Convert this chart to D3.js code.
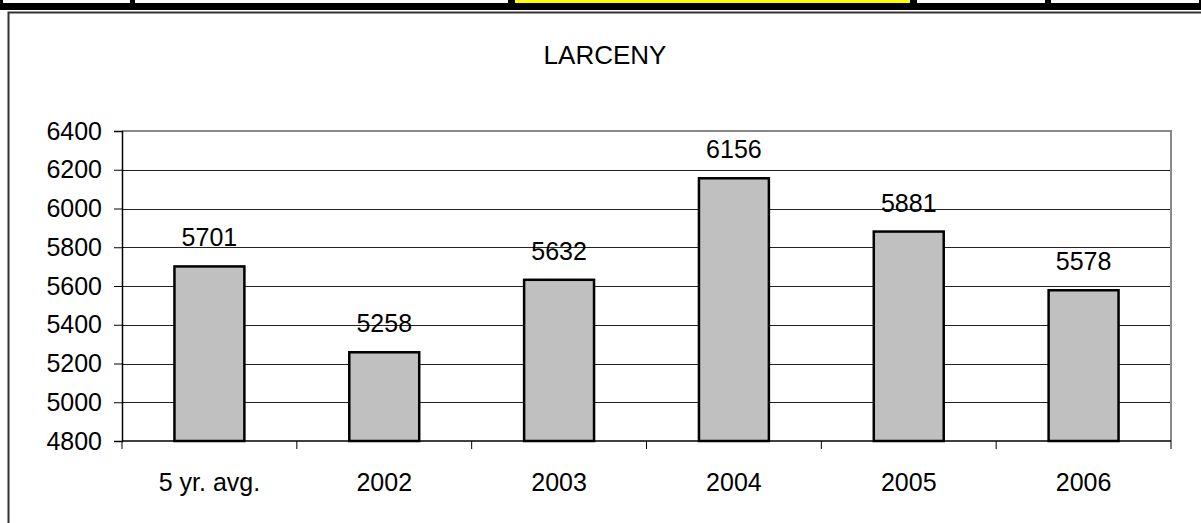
<!DOCTYPE html>
<html>
<head>
<meta charset="utf-8">
<script src="https://cdn.jsdelivr.net/npm/d3@7"></script>
<style>
  body { margin: 0; background: #fff; }
  svg { display: block; font-family: "Liberation Sans", Arial, sans-serif; }
</style>
</head>
<body>
<svg width="1201" height="523"></svg>
<script>
var categories = ["5 yr. avg.", "2002", "2003", "2004", "2005", "2006"];
var values = [5701, 5258, 5632, 6156, 5881, 5578];
var yTicks = [4800, 5000, 5200, 5400, 5600, 5800, 6000, 6200, 6400];
var title = "LARCENY";

var svg = d3.select("svg");

// header strip of the page above the chart
var cells = [[3, 130, "#fff"], [135, 508, "#fff"], [515, 910, "#ffff00"], [917, 1045, "#fff"], [1051, 1199, "#fff"]];
svg.append("rect").attr("x", 0).attr("y", 0).attr("width", 1201).attr("height", 10).attr("fill", "#000");
svg.selectAll(".cell").data(cells).enter().append("rect")
    .attr("x", function(d) { return d[0]; })
    .attr("y", 0)
    .attr("width", function(d) { return d[1] - d[0]; })
    .attr("height", 3)
    .attr("fill", function(d) { return d[2]; });

// chart frame
svg.append("rect")
    .attr("x", 8.5).attr("y", 12.5).attr("width", 1220).attr("height", 540)
    .attr("fill", "none").attr("stroke", "#333").attr("stroke-width", 2);

var plotLeft = 122, plotRight = 1171, plotTop = 131, plotBottom = 441;

var x = d3.scaleBand()
    .domain(categories)
    .range([plotLeft, plotRight])
    .paddingInner(0.6)
    .paddingOuter(0.3);

var y = d3.scaleLinear()
    .domain([4800, 6400])
    .range([plotBottom, plotTop]);

// gridlines
svg.selectAll(".grid").data(yTicks.slice(1, -1)).enter().append("line")
    .attr("x1", plotLeft).attr("x2", plotRight)
    .attr("y1", function(d) { return Math.round(y(d)) + 0.5; })
    .attr("y2", function(d) { return Math.round(y(d)) + 0.5; })
    .attr("stroke", "#222").attr("stroke-width", 1);

// plot border top/right (gray)
svg.append("path")
    .attr("d", "M" + plotLeft + "," + plotTop + "H" + plotRight + "V" + plotBottom)
    .attr("fill", "none").attr("stroke", "#888").attr("stroke-width", 2);

// bars
svg.selectAll(".bar").data(values).enter().append("rect")
    .attr("x", function(d, i) { return x(categories[i]); })
    .attr("y", function(d) { return y(d); })
    .attr("width", x.bandwidth())
    .attr("height", function(d) { return y(4800) - y(d); })
    .attr("fill", "#c0c0c0")
    .attr("stroke", "#000")
    .attr("stroke-width", 2.5);

// value labels
svg.selectAll(".val").data(values).enter().append("text")
    .attr("x", function(d, i) { return x(categories[i]) + x.bandwidth() / 2; })
    .attr("y", function(d) { return y(d) - 20; })
    .attr("text-anchor", "middle")
    .style("font-size", "25px")
    .text(function(d) { return d; });

// y axis
var yAxis = d3.axisLeft(y).tickValues(yTicks).tickFormat(d3.format("d")).tickSize(8).tickPadding(12);
var gy = svg.append("g").attr("transform", "translate(" + plotLeft + ",0)").call(yAxis);
gy.select(".domain").attr("stroke", "#000").attr("stroke-width", 1.5);
gy.selectAll(".tick line").attr("stroke", "#000");
gy.selectAll("text").style("font-size", "25px").attr("fill", "#000")
    .style("font-family", "Liberation Sans, Arial, sans-serif");

// x axis: labels centered, ticks on category boundaries
var xAxis = d3.axisBottom(x).tickSize(0).tickPadding(32);
var gx = svg.append("g").attr("transform", "translate(0," + plotBottom + ")").call(xAxis);
gx.select(".domain").remove();
gx.selectAll("text").style("font-size", "25px").attr("fill", "#000")
    .style("font-family", "Liberation Sans, Arial, sans-serif");

var bounds = d3.range(categories.length + 1).map(function(i) { return plotLeft + i * x.step(); });
svg.selectAll(".xt").data(bounds).enter().append("line")
    .attr("x1", function(d) { return d; }).attr("x2", function(d) { return d; })
    .attr("y1", plotBottom).attr("y2", plotBottom + 8)
    .attr("stroke", "#000").attr("stroke-width", 1);
svg.append("line")
    .attr("x1", plotLeft).attr("x2", plotRight)
    .attr("y1", plotBottom).attr("y2", plotBottom)
    .attr("stroke", "#000").attr("stroke-width", 1.5);

// title
svg.append("text")
    .attr("x", 605).attr("y", 64)
    .attr("text-anchor", "middle")
    .style("font-size", "26px")
    .text(title);
</script>
</body>
</html>
